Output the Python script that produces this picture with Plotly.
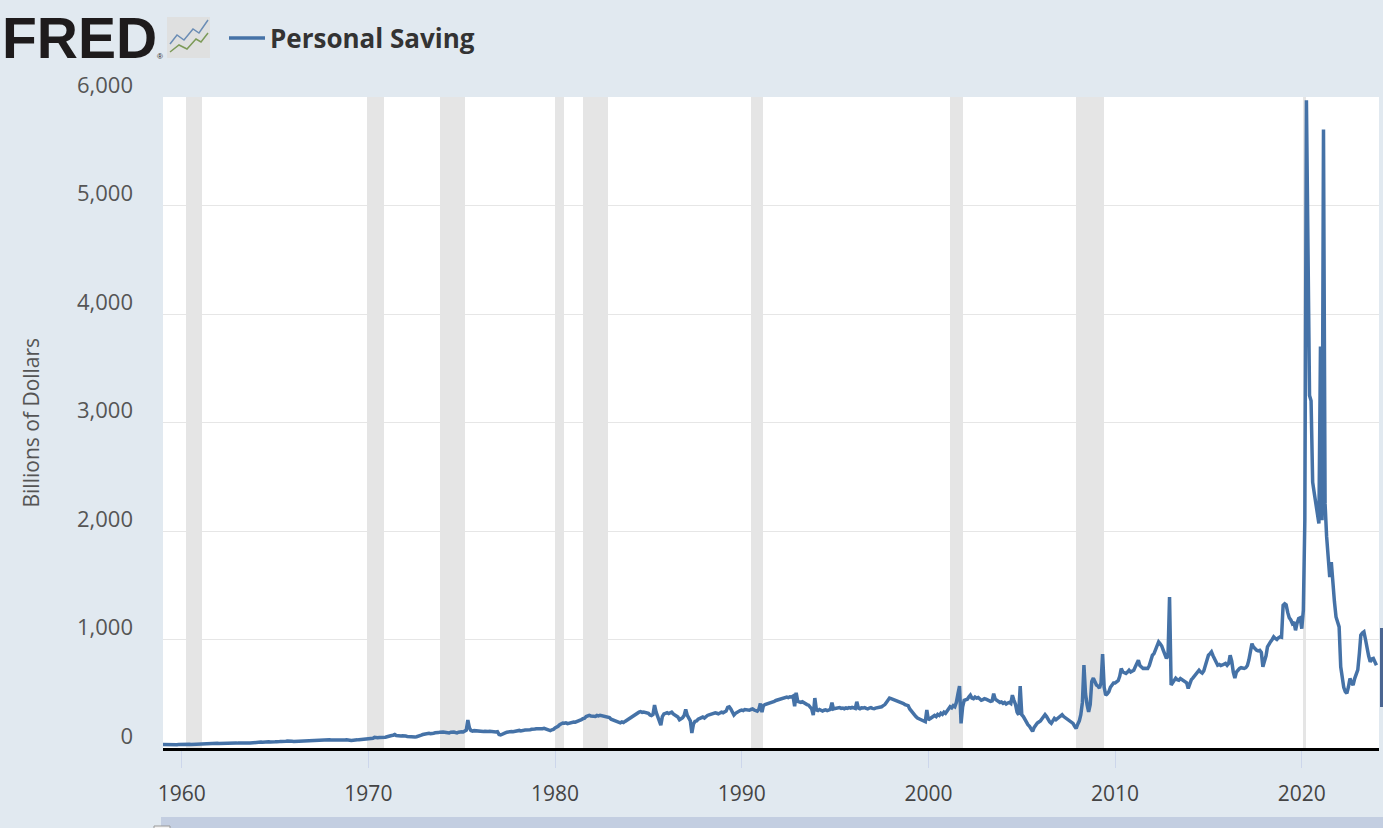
import pandas as pd
import plotly.graph_objects as go

# Personal Saving, billions of dollars (SAAR), monthly from Jan 1959
saving_1959_1969 = [
    33, 32, 31, 32, 30, 31, 33, 32, 30, 31, 33, 34,
    33, 32, 34, 33, 34, 35, 33, 34, 35, 36, 34, 35,
    36, 37, 38, 37, 39, 40, 38, 41, 40, 42, 41, 43,
    42, 43, 44, 43, 45, 44, 46, 45, 44, 46, 45, 47,
    45, 44, 46, 45, 44, 46, 47, 45, 46, 48, 47, 49,
    50, 52, 54, 55, 53, 56, 57, 55, 58, 56, 59, 58,
    57, 58, 56, 59, 60, 58, 61, 62, 64, 61, 63, 62,
    61, 62, 60, 63, 64, 66, 65, 64, 66, 68, 67, 69,
    70, 72, 71, 73, 74, 72, 75, 74, 76, 75, 77, 76,
    74, 73, 75, 72, 74, 76, 70, 72, 74, 73, 75, 76,
    72, 70, 73, 71, 74, 75, 77, 78, 80, 79, 81, 80,
]
saving_1970s = [
    83, 85, 87, 90, 98, 92, 94, 96, 95, 97, 99, 100,
    104, 110, 112, 115, 118, 124, 115, 112, 108, 110, 112, 114,
    110, 106, 104, 100, 102, 98, 101, 104, 106, 110, 118, 124,
    128, 132, 134, 136, 132, 138, 136, 140, 138, 142, 146, 150,
    148, 146, 142, 140, 138, 145, 150, 147, 143, 140, 146, 152,
    150, 148, 155, 165, 258, 185, 160, 155, 160, 158, 162, 160,
    158, 155, 152, 154, 150, 153, 155, 152, 148, 150, 147, 150,
    125, 120, 128, 138, 140, 145, 150, 148, 152, 150, 155, 158,
    160, 162, 158, 165, 163, 167, 165, 170, 168, 172, 170, 175,
    178, 176, 180, 175, 178, 182, 176, 170, 165, 160, 168, 172,
]
saving_1980s = [
    185, 190, 200, 215, 225, 230, 228, 232, 225, 230, 235, 240,
    240, 238, 242, 250, 255, 262, 270, 275, 290, 298, 300, 295,
    292, 295, 290, 300, 296, 302, 298, 292, 288, 285, 282, 280,
    265, 260, 258, 250, 245, 238, 232, 240, 235, 245, 255, 262,
    275, 290, 300, 305, 315, 325, 330, 335, 328, 332, 330, 325,
    320, 305, 300, 310, 395, 330, 290, 265, 210, 290, 315, 320,
    325, 318, 322, 330, 315, 300, 295, 285, 260, 270, 280, 300,
    356, 300, 280, 250, 138, 220, 245, 250, 265, 270, 280, 285,
    276, 290, 300, 305, 310, 318, 322, 325, 320, 315, 322, 330,
    325, 330, 340, 375, 380, 360, 330, 304, 320, 330, 340, 345,
]
saving_1990s = [
    350, 345, 355, 350, 352, 348, 355, 360, 350, 345, 340, 355,
    410, 330, 390, 400, 405, 411, 408, 415, 420, 430, 438, 442,
    445, 450, 455, 460, 462, 470, 465, 472, 470, 478, 385, 509,
    430, 425, 420, 426, 415, 410, 400, 395, 380, 360, 304, 460,
    350, 345, 355, 350, 340, 348, 352, 345, 350, 355, 417, 360,
    365, 370, 368, 372, 365, 368, 362, 370, 366, 372, 368, 375,
    370, 365, 426, 368, 362, 370, 368, 372, 365, 360, 368, 372,
    365, 362, 368, 370, 372, 375, 380, 390, 400, 420, 445, 460,
    455, 450, 445, 440, 435, 430, 420, 415, 410, 400, 395, 390,
    360, 340, 320, 300, 290, 276, 270, 265, 260, 255, 242, 350,
]
saving_2000s = [
    258, 270, 280, 290, 300, 290, 310, 300, 320, 310, 330, 320,
    340, 360, 380, 370, 390, 380, 420, 500, 570, 227, 380, 440,
    441, 450, 470, 487, 460, 455, 470, 460, 465, 450, 440, 445,
    455, 450, 445, 440, 430, 435, 501, 450, 440, 430, 420, 425,
    411, 420, 405, 415, 420, 410, 487, 440, 400, 330, 307, 570,
    307, 290, 260, 227, 215, 200, 180, 153, 190, 212, 230, 240,
    250, 270, 290, 307, 290, 260, 240, 227, 250, 273, 260, 270,
    280, 300, 307, 290, 280, 260, 250, 240, 235, 227, 200, 181,
    220, 250, 307, 420, 764, 500, 400, 334, 400, 614, 644, 600,
    580, 570, 552, 600, 865, 560, 487, 500, 520, 560, 583, 600,
]
saving_2010s = [
    600, 614, 620, 660, 733, 700, 690, 687, 700, 717, 700, 710,
    717, 750, 780, 809, 760, 740, 733, 735, 730, 733, 760, 800,
    855, 870, 900, 950, 978, 960, 940, 900, 860, 825, 850, 1392,
    580, 600, 620, 644, 630, 625, 640, 630, 620, 614, 600, 549,
    600, 630, 644, 660, 680, 700, 717, 700, 690, 710, 760, 800,
    855, 870, 886, 850, 820, 790, 763, 770, 760, 765, 770, 780,
    763, 780, 855, 800, 700, 644, 700, 720, 733, 740, 735, 733,
    740, 760, 809, 880, 962, 930, 910, 901, 895, 900, 880, 748,
    800, 850, 932, 950, 980, 1000, 1024, 1010, 1000, 1015, 1024, 1020,
    1315, 1330, 1320, 1250, 1200, 1180, 1147, 1160, 1085, 1150, 1194, 1200,
]
saving_2020s = [
    1100, 1270, 2100, 5970, 4600, 3250, 3200, 2450, 2350, 2250, 2150, 2070,
    3700, 2100, 5700, 2250, 1950, 1730, 1575, 1714, 1500, 1350, 1208, 1150,
    1116, 748, 625, 560, 520, 503, 560, 641, 600, 580, 640, 687,
    720, 871, 1040, 1060, 1071, 1000, 917, 850, 794, 820, 825, 800,
    763,
]

recession_start = ["1960-04-01", "1969-12-01", "1973-11-01", "1980-01-01", "1981-07-01",
                   "1990-07-01", "2001-03-01", "2007-12-01", "2020-02-01"]
recession_end = ["1961-02-01", "1970-11-01", "1975-03-01", "1980-07-01", "1982-11-01",
                 "1991-03-01", "2001-11-01", "2009-06-01", "2020-04-01"]

y_ticks = [0, 1000, 2000, 3000, 4000, 5000, 6000]

saving = saving_1959_1969 + saving_1970s + saving_1980s + saving_1990s + saving_2000s + saving_2010s + saving_2020s
dates = pd.date_range("1959-01-01", periods=len(saving), freq="MS")

rec_start = pd.to_datetime(recession_start)
rec_end = pd.to_datetime(recession_end)
rec_mid = rec_start + (rec_end - rec_start) / 2
rec_width = (rec_end - rec_start).total_seconds() * 1000

W, H = 1383, 828
L, R, T, B = 163, 4, 97, 80


def px_x(p):
    # pixel column -> paper x
    return (p - L) / (W - L - R)


def px_y(p):
    # pixel row -> paper y
    return (H - B - p) / (H - T - B)


fig = go.Figure()
# recession shading, drawn as full-height bars so it covers the grid
fig.add_trace(go.Bar(
    x=rec_mid, y=[y_ticks[-1]] * len(rec_mid), width=list(rec_width),
    marker=dict(color="#e5e5e5", line=dict(width=0)),
    hoverinfo="skip", showlegend=False,
))
fig.add_trace(go.Scatter(
    x=dates, y=saving, mode="lines", name="Personal Saving",
    line=dict(color="#4572a7", width=3.5),
    hovertemplate="%{x|%b %Y}: %{y:,.1f}<extra></extra>",
))

# FRED logo
fig.add_annotation(text="<b>FRED</b>", xref="paper", yref="paper", x=px_x(0), y=px_y(38),
                   xanchor="left", yanchor="middle", showarrow=False,
                   font=dict(family="Liberation Sans", size=57, color="#1e1b1c"))
fig.add_annotation(text="®", xref="paper", yref="paper", x=px_x(160), y=px_y(57),
                   xanchor="center", yanchor="middle", showarrow=False,
                   font=dict(family="Liberation Sans", size=8, color="#1e1b1c"))
fig.add_shape(type="rect", xref="paper", yref="paper", x0=px_x(167), x1=px_x(210), y0=px_y(58), y1=px_y(17),
              fillcolor="#dfe0e0", line=dict(width=0), layer="above")
fig.add_shape(type="path", xref="paper", yref="paper", layer="above",
              path="M {} {} L {} {} L {} {} L {} {} L {} {} L {} {}".format(
                  px_x(170), px_y(44), px_x(177), px_y(35), px_x(184), px_y(40),
                  px_x(193), px_y(29), px_x(199), px_y(33), px_x(208), px_y(20)),
              line=dict(color="#6b8db5", width=1.5))
fig.add_shape(type="path", xref="paper", yref="paper", layer="above",
              path="M {} {} L {} {} L {} {} L {} {} L {} {} L {} {}".format(
                  px_x(170), px_y(52), px_x(179), px_y(45), px_x(187), px_y(49),
                  px_x(196), px_y(39), px_x(201), px_y(42), px_x(208), px_y(33)),
              line=dict(color="#7d9a58", width=1.5))

# y axis title
fig.add_annotation(text="Billions of Dollars", xref="paper", yref="paper", x=px_x(30), y=0.5,
                   xanchor="center", yanchor="middle", textangle=-90, showarrow=False,
                   font=dict(family="Open Sans", size=21, color="#555555"))

# navigator strip at the bottom and the edge marker on the right
fig.add_shape(type="rect", xref="paper", yref="paper", x0=px_x(161), x1=px_x(1390), y0=px_y(835), y1=px_y(817),
              fillcolor="#c3cee1", line=dict(width=0), layer="above")
fig.add_shape(type="rect", xref="paper", yref="paper", x0=px_x(154), x1=px_x(170), y0=px_y(835), y1=px_y(826),
              fillcolor="#f2f2f2", line=dict(color="#999999", width=1), layer="above")
fig.add_shape(type="rect", xref="paper", yref="paper", x0=px_x(1380), x1=px_x(1383), y0=px_y(707), y1=px_y(628),
              fillcolor="#4a6591", line=dict(width=0), layer="above")

fig.update_layout(
    width=W, height=H,
    paper_bgcolor="#e1e9f0", plot_bgcolor="#ffffff",
    margin=dict(l=L, r=R, t=T, b=B),
    font=dict(family="Open Sans", size=21, color="#444444"),
    showlegend=True,
    legend=dict(orientation="h", x=px_x(224), y=px_y(38), xanchor="left", yanchor="middle",
                bgcolor="rgba(0,0,0,0)", itemwidth=36,
                font=dict(family="Open Sans", size=26, color="#333333", weight="bold")),
    hovermode="x",
    bargap=0,
)
fig.update_xaxes(type="date", range=["1959-01-01", "2024-02-20"],
                 tick0="1960-01-01", dtick="M120", tickformat="%Y",
                 ticks="outside", ticklen=17, tickcolor="#ccd6eb", tickwidth=1,
                 ticklabelstandoff=8,
                 showgrid=False, showline=True, linecolor="#000000", linewidth=3,
                 zeroline=False, tickfont=dict(size=21, color="#444444"))
fig.update_yaxes(range=[0, 6000], tickvals=y_ticks, ticktext=[f"{v:,}" for v in y_ticks],
                 showgrid=True, gridcolor="#e6e6e6", gridwidth=1, zeroline=False,
                 ticks="", ticklabelshift=-12, ticklabelstandoff=29,
                 tickfont=dict(size=22, color="#555555"))

fig.write_html("out.html", config={"displayModeBar": False},
               post_script="document.body.style.margin='0';")
